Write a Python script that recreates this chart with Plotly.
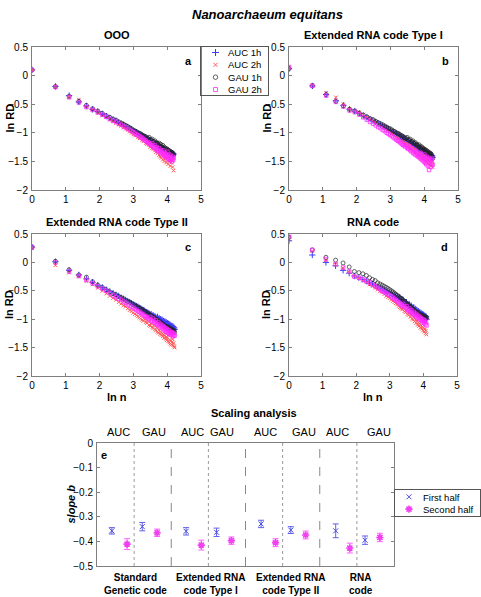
import numpy as np
import plotly.graph_objects as go

# ---------------- data ----------------
n_a = list(range(1, 67))
n_b = list(range(1, 71))
n_c = list(range(1, 69))
n_d = list(range(1, 61))

a_auc1 = [0.10, -0.19, -0.35, -0.46, -0.53, -0.59, -0.63, -0.67, -0.71, -0.74,
          -0.77, -0.79, -0.82, -0.84, -0.86, -0.89, -0.90, -0.93, -0.94, -0.97,
          -0.98, -0.99, -1.01, -1.03, -1.04, -1.05, -1.07, -1.08, -1.09, -1.11,
          -1.12, -1.13, -1.14, -1.16, -1.15, -1.18, -1.19, -1.20, -1.19, -1.22,
          -1.22, -1.24, -1.23, -1.26, -1.25, -1.27, -1.28, -1.27, -1.30, -1.29,
          -1.31, -1.30, -1.33, -1.32, -1.34, -1.31, -1.35, -1.33, -1.36, -1.34,
          -1.37, -1.35, -1.38, -1.36, -1.39, -1.37]
a_auc2 = [0.10, -0.20, -0.37, -0.42, -0.55, -0.59, -0.65, -0.70, -0.73, -0.77,
          -0.80, -0.83, -0.86, -0.88, -0.91, -0.93, -0.95, -0.98, -1.00, -1.03,
          -1.05, -1.02, -1.08, -1.10, -1.07, -1.13, -1.15, -1.11, -1.18, -1.20,
          -1.16, -1.22, -1.25, -1.19, -1.27, -1.29, -1.23, -1.31, -1.34, -1.27,
          -1.36, -1.30, -1.39, -1.42, -1.33, -1.44, -1.38, -1.47, -1.35, -1.50,
          -1.41, -1.45, -1.52, -1.38, -1.48, -1.55, -1.43, -1.50, -1.46, -1.58,
          -1.44, -1.52, -1.49, -1.60, -1.47, -1.66]
a_gau1 = [0.10, -0.19, -0.36, -0.45, -0.52, -0.58, -0.62, -0.66, -0.70, -0.73,
          -0.76, -0.78, -0.81, -0.83, -0.85, -0.87, -0.89, -0.91, -0.93, -0.95,
          -0.97, -0.98, -1.00, -1.01, -1.02, -1.04, -1.05, -1.06, -1.07, -1.09,
          -1.10, -1.08, -1.12, -1.13, -1.11, -1.15, -1.16, -1.14, -1.18, -1.17,
          -1.19, -1.21, -1.18, -1.23, -1.20, -1.24, -1.26, -1.22, -1.27, -1.25,
          -1.29, -1.27, -1.30, -1.28, -1.32, -1.30, -1.33, -1.31, -1.35, -1.33,
          -1.36, -1.34, -1.38, -1.35, -1.40, -1.37]
a_gau2 = [0.10, -0.20, -0.38, -0.47, -0.55, -0.60, -0.64, -0.68, -0.72, -0.76,
          -0.79, -0.81, -0.84, -0.86, -0.89, -0.90, -0.93, -0.95, -0.97, -0.99,
          -1.01, -1.03, -1.04, -1.06, -1.08, -1.09, -1.11, -1.13, -1.14, -1.16,
          -1.17, -1.19, -1.20, -1.22, -1.18, -1.24, -1.26, -1.22, -1.28, -1.25,
          -1.30, -1.32, -1.27, -1.34, -1.30, -1.36, -1.33, -1.38, -1.31, -1.40,
          -1.35, -1.42, -1.37, -1.44, -1.33, -1.41, -1.46, -1.38, -1.43, -1.48,
          -1.40, -1.45, -1.50, -1.42, -1.47, -1.44]

b_auc1 = [0.12, -0.18, -0.33, -0.44, -0.52, -0.59, -0.62, -0.66, -0.70, -0.73,
          -0.76, -0.79, -0.81, -0.84, -0.86, -0.88, -0.90, -0.92, -0.94, -0.96,
          -0.98, -0.99, -1.01, -1.02, -1.04, -1.05, -1.07, -1.08, -1.09, -1.11,
          -1.12, -1.13, -1.15, -1.14, -1.17, -1.18, -1.16, -1.20, -1.21, -1.19,
          -1.23, -1.22, -1.25, -1.24, -1.27, -1.26, -1.28, -1.30, -1.27, -1.31,
          -1.29, -1.33, -1.31, -1.34, -1.32, -1.36, -1.33, -1.37, -1.35, -1.38,
          -1.36, -1.39, -1.37, -1.40, -1.38, -1.41, -1.39, -1.42, -1.40, -1.43]
b_auc2 = [0.14, -0.16, -0.30, -0.38, -0.50, -0.58, -0.61, -0.64, -0.68, -0.72,
          -0.76, -0.79, -0.82, -0.85, -0.87, -0.90, -0.92, -0.95, -0.97, -0.99,
          -1.01, -1.03, -1.05, -1.07, -1.09, -1.10, -1.12, -1.14, -1.16, -1.17,
          -1.19, -1.21, -1.18, -1.23, -1.25, -1.21, -1.27, -1.29, -1.25, -1.31,
          -1.33, -1.28, -1.35, -1.31, -1.37, -1.39, -1.34, -1.41, -1.36, -1.43,
          -1.38, -1.45, -1.40, -1.47, -1.42, -1.50, -1.44, -1.52, -1.46, -1.48,
          -1.54, -1.45, -1.50, -1.56, -1.47, -1.52, -1.58, -1.50, -1.55, -1.60]
b_gau1 = [0.12, -0.18, -0.33, -0.45, -0.53, -0.59, -0.62, -0.66, -0.69, -0.72,
          -0.75, -0.77, -0.80, -0.82, -0.84, -0.86, -0.88, -0.90, -0.92, -0.93,
          -0.95, -0.97, -0.98, -1.00, -1.01, -1.02, -1.04, -1.05, -1.06, -1.08,
          -1.09, -1.10, -1.08, -1.12, -1.13, -1.11, -1.15, -1.16, -1.14, -1.18,
          -1.19, -1.17, -1.21, -1.20, -1.22, -1.24, -1.21, -1.25, -1.27, -1.24,
          -1.28, -1.26, -1.30, -1.28, -1.31, -1.29, -1.33, -1.31, -1.34, -1.32,
          -1.36, -1.34, -1.37, -1.35, -1.39, -1.36, -1.40, -1.38, -1.42, -1.45]
b_gau2 = [0.15, -0.18, -0.35, -0.46, -0.54, -0.61, -0.64, -0.68, -0.73, -0.77,
          -0.81, -0.84, -0.87, -0.90, -0.92, -0.95, -0.97, -1.00, -1.02, -1.04,
          -1.06, -1.08, -1.10, -1.12, -1.14, -1.15, -1.17, -1.19, -1.21, -1.22,
          -1.24, -1.21, -1.26, -1.28, -1.24, -1.30, -1.32, -1.27, -1.34, -1.36,
          -1.30, -1.38, -1.33, -1.40, -1.36, -1.42, -1.38, -1.44, -1.35, -1.46,
          -1.40, -1.48, -1.43, -1.50, -1.38, -1.52, -1.45, -1.55, -1.42, -1.47,
          -1.58, -1.44, -1.65, -1.50, -1.46, -1.60, -1.48, -1.53, -1.45, -1.56]

c_auc1 = [0.27, 0.01, -0.14, -0.22, -0.29, -0.35, -0.40, -0.44, -0.48, -0.51,
          -0.54, -0.57, -0.59, -0.62, -0.64, -0.66, -0.68, -0.70, -0.72, -0.74,
          -0.75, -0.77, -0.78, -0.80, -0.81, -0.83, -0.84, -0.85, -0.87, -0.88,
          -0.89, -0.90, -0.92, -0.91, -0.94, -0.93, -0.96, -0.95, -0.97, -0.99,
          -0.96, -1.00, -0.98, -1.02, -1.00, -1.03, -1.01, -1.05, -1.03, -1.06,
          -1.04, -1.08, -1.05, -1.09, -1.07, -1.10, -1.08, -1.12, -1.09, -1.13,
          -1.11, -1.14, -1.12, -1.16, -1.13, -1.17, -1.15, -1.18]
c_auc2 = [0.25, -0.05, -0.18, -0.25, -0.33, -0.39, -0.45, -0.50, -0.55, -0.59,
          -0.63, -0.66, -0.70, -0.73, -0.76, -0.78, -0.81, -0.84, -0.86, -0.89,
          -0.91, -0.93, -0.95, -0.97, -0.99, -1.01, -1.03, -1.00, -1.05, -1.07,
          -1.04, -1.10, -1.12, -1.08, -1.14, -1.16, -1.11, -1.18, -1.20, -1.15,
          -1.22, -1.24, -1.19, -1.26, -1.22, -1.28, -1.25, -1.30, -1.27, -1.33,
          -1.29, -1.35, -1.31, -1.37, -1.33, -1.39, -1.28, -1.41, -1.36, -1.43,
          -1.38, -1.45, -1.40, -1.35, -1.46, -1.42, -1.48, -1.50]
c_gau1 = [0.27, 0.02, -0.13, -0.22, -0.26, -0.34, -0.40, -0.44, -0.48, -0.52,
          -0.55, -0.57, -0.60, -0.62, -0.64, -0.67, -0.69, -0.70, -0.72, -0.74,
          -0.76, -0.77, -0.79, -0.80, -0.82, -0.83, -0.85, -0.86, -0.87, -0.89,
          -0.90, -0.91, -0.93, -0.94, -0.95, -0.96, -0.97, -0.99, -1.00, -1.01,
          -1.02, -1.03, -1.04, -1.05, -1.06, -1.07, -1.08, -1.09, -1.10, -1.11,
          -1.12, -1.13, -1.14, -1.13, -1.15, -1.16, -1.14, -1.17, -1.18, -1.16,
          -1.19, -1.20, -1.18, -1.21, -1.19, -1.22, -1.20, -1.23]
c_gau2 = [0.27, 0.00, -0.16, -0.24, -0.31, -0.37, -0.42, -0.46, -0.50, -0.54,
          -0.58, -0.61, -0.64, -0.66, -0.69, -0.71, -0.74, -0.76, -0.78, -0.80,
          -0.82, -0.84, -0.86, -0.87, -0.89, -0.91, -0.92, -0.94, -0.95, -0.97,
          -0.98, -1.00, -0.96, -1.02, -1.03, -0.99, -1.05, -1.06, -1.02, -1.08,
          -1.10, -1.05, -1.12, -1.08, -1.14, -1.10, -1.16, -1.12, -1.18, -1.14,
          -1.20, -1.16, -1.22, -1.17, -1.23, -1.19, -1.25, -1.20, -1.26, -1.22,
          -1.27, -1.23, -1.28, -1.24, -1.30, -1.25, -1.27, -1.29]

d_auc1 = [0.38, 0.13, 0.00, -0.06, -0.14, -0.19, -0.24, -0.27, -0.30, -0.33,
          -0.36, -0.38, -0.40, -0.43, -0.45, -0.47, -0.49, -0.51, -0.53, -0.55,
          -0.54, -0.58, -0.60, -0.59, -0.62, -0.64, -0.61, -0.67, -0.69, -0.66,
          -0.71, -0.73, -0.70, -0.75, -0.77, -0.74, -0.79, -0.76, -0.81, -0.83,
          -0.79, -0.85, -0.82, -0.87, -0.84, -0.88, -0.86, -0.90, -0.88, -0.92,
          -0.89, -0.93, -0.91, -0.95, -0.92, -0.96, -0.94, -0.98, -0.95, -1.00]
d_auc2 = [0.45, 0.20, 0.04, -0.04, -0.10, -0.17, -0.24, -0.28, -0.32, -0.35,
          -0.39, -0.42, -0.45, -0.48, -0.51, -0.53, -0.56, -0.59, -0.61, -0.63,
          -0.66, -0.68, -0.70, -0.72, -0.74, -0.77, -0.79, -0.81, -0.83, -0.80,
          -0.86, -0.88, -0.84, -0.91, -0.93, -0.89, -0.96, -0.92, -0.99, -1.01,
          -0.96, -1.04, -1.00, -1.07, -1.03, -1.10, -1.06, -1.12, -1.08, -1.15,
          -1.11, -1.17, -1.13, -1.20, -1.15, -1.22, -1.18, -1.25, -1.20, -1.27]
d_gau1 = [0.44, 0.22, 0.09, 0.04, -0.01, -0.08, -0.16, -0.18, -0.20, -0.23,
          -0.27, -0.30, -0.32, -0.36, -0.38, -0.40, -0.42, -0.44, -0.46, -0.48,
          -0.50, -0.52, -0.54, -0.56, -0.58, -0.60, -0.62, -0.63, -0.65, -0.67,
          -0.68, -0.70, -0.72, -0.73, -0.75, -0.76, -0.78, -0.79, -0.81, -0.82,
          -0.84, -0.85, -0.86, -0.88, -0.89, -0.90, -0.88, -0.92, -0.93, -0.91,
          -0.95, -0.94, -0.96, -0.93, -0.97, -0.95, -0.98, -0.96, -0.99, -0.97]
d_gau2 = [0.45, 0.22, 0.06, -0.03, -0.09, -0.16, -0.25, -0.27, -0.30, -0.33,
          -0.36, -0.39, -0.42, -0.45, -0.47, -0.50, -0.52, -0.54, -0.56, -0.58,
          -0.60, -0.62, -0.64, -0.66, -0.68, -0.70, -0.72, -0.74, -0.76, -0.73,
          -0.78, -0.80, -0.77, -0.83, -0.85, -0.81, -0.87, -0.84, -0.89, -0.91,
          -0.87, -0.93, -0.90, -0.95, -0.92, -0.97, -0.94, -0.99, -0.96, -1.01,
          -0.98, -1.03, -1.00, -1.05, -1.01, -1.07, -1.03, -1.09, -1.05, -1.11]

panel_titles = ["OOO", "Extended RNA code Type I", "Extended RNA code Type II", "RNA code"]
panel_letters = ["a", "b", "c", "d"]
series_names = ["AUC 1h", "AUC 2h", "GAU 1h", "GAU 2h"]

# Scaling analysis (panel e)
e_first_x = [0.40, 1.22, 2.40, 3.22, 4.42, 5.22, 6.43, 7.22]
e_second_x = [0.81, 1.62, 2.81, 3.62, 4.81, 5.62, 6.81, 7.62]
e_first = [-0.357, -0.340, -0.359, -0.363, -0.329, -0.354, -0.357, -0.395]
e_first_err = [0.013, 0.017, 0.015, 0.017, 0.015, 0.014, 0.028, 0.017]
e_second = [-0.411, -0.365, -0.415, -0.397, -0.405, -0.374, -0.427, -0.384]
e_second_err = [0.022, 0.015, 0.020, 0.015, 0.016, 0.016, 0.020, 0.017]
e_names = ["First half", "Second half"]
e_top_labels = ["AUC", "GAU", "AUC", "GAU", "AUC", "GAU", "AUC", "GAU"]
e_top_x = [0.59, 1.54, 2.56, 3.38, 4.54, 5.57, 6.49, 7.60]
e_group_line1 = ["Standard", "Extended RNA", "Extended RNA", "RNA"]
e_group_line2 = ["Genetic code", "code Type I", "code Type II", "code"]
e_group_x = [1.03, 3.05, 5.2, 7.1]
e_dotted = [1, 3, 5, 7]
e_dashed = [2, 4, 6]

# ---------------- figure ----------------
W, H = 481, 597
FONT = "Liberation Sans, Arial, sans-serif"
AX = "#7f7f7f"


def px(v):
    return v / W


def py(v):
    return 1 - v / H


panels = [
    (n_a, [a_auc1, a_auc2, a_gau1, a_gau2], (32, 201), (47, 190)),
    (n_b, [b_auc1, b_auc2, b_gau1, b_gau2], (289, 458), (47, 190)),
    (n_c, [c_auc1, c_auc2, c_gau1, c_gau2], (32, 201), (234, 376)),
    (n_d, [d_auc1, d_auc2, d_gau1, d_gau2], (289, 457), (234, 376)),
]

styles = [
    dict(symbol="cross-thin-open", color="#3a3aff", size=4.5, lw=1),
    dict(symbol="x-thin-open", color="#ff5a5a", size=3.5, lw=1),
    dict(symbol="circle-open", color="#222222", size=4, lw=0.7),
    dict(symbol="square-open", color="#ff2aff", size=3.5, lw=0.8),
]

fig = go.Figure()
layout = dict(
    width=W, height=H, margin=dict(l=0, r=0, t=0, b=0, autoexpand=False),
    paper_bgcolor="white", plot_bgcolor="white",
    font=dict(family=FONT, size=10, color="black"),
    showlegend=False,
)
annotations = []


def frame_axis(**kw):
    d = dict(showline=True, linecolor=AX, linewidth=1, showgrid=False,
             zeroline=False, fixedrange=True)
    d.update(kw)
    return d


for i, (nv, ser, (x0, x1), (y0, y1)) in enumerate(panels):
    k = i + 1
    xs = "x" if k == 1 else f"x{k}"
    ys = "y" if k == 1 else f"y{k}"
    lnx = np.log(np.array(nv, dtype=float))
    for j, yv in enumerate(ser):
        st = styles[j]
        fig.add_trace(go.Scatter(
            x=lnx, y=yv, mode="markers", xaxis=xs, yaxis=ys,
            name=series_names[j],
            marker=dict(symbol=st["symbol"], size=st["size"], color=st["color"],
                        line=dict(color=st["color"], width=st["lw"])),
        ))
    layout["xaxis" if k == 1 else f"xaxis{k}"] = frame_axis(
        domain=[px(x0), px(x1)], anchor=ys, range=[0, 5], dtick=1,
        mirror="allticks", ticks="inside", ticklen=3, tickcolor=AX,
        tickfont=dict(size=10), ticklabelstandoff=0,
    )
    layout["yaxis" if k == 1 else f"yaxis{k}"] = frame_axis(
        domain=[py(y1), py(y0)], anchor=xs, range=[-2, 0.5], dtick=0.5,
        mirror="allticks", ticks="inside", ticklen=3, tickcolor=AX,
        tickfont=dict(size=10), ticklabelstandoff=1,
    )
    annotations.append(dict(
        text=f"<b>{panel_titles[i]}</b>", x=(px(x0) + px(x1)) / 2, y=py(y0 - 12),
        xref="paper", yref="paper", xanchor="center", yanchor="middle",
        showarrow=False, font=dict(size=11)))
    annotations.append(dict(
        text=f"<b>{panel_letters[i]}</b>", x=0.925, y=0.905,
        xref=f"{xs} domain", yref=f"{ys} domain", xanchor="center", yanchor="middle",
        showarrow=False, font=dict(size=11)))
    annotations.append(dict(
        text="<b>ln RD</b>", x=px(x0 - 23), y=(py(y0) + py(y1)) / 2,
        xref="paper", yref="paper", xanchor="center", yanchor="middle",
        textangle=-90, showarrow=False, font=dict(size=11)))
    if k >= 3:
        annotations.append(dict(
            text="<b>ln n</b>", x=(px(x0) + px(x1)) / 2, y=py(y1 + 21),
            xref="paper", yref="paper", xanchor="center", yanchor="middle",
            showarrow=False, font=dict(size=11)))

# legend for panels a-d (drawn in its own small frame, pixel units)
LEG_FS = 9.5
line_h = LEG_FS * 1.3
layout["xaxis6"] = frame_axis(domain=[px(201), px(268)], anchor="y6", range=[0, 67],
                              mirror=True, linecolor="#555555", showticklabels=False, ticks="")
layout["yaxis6"] = frame_axis(domain=[py(95), py(47)], anchor="x6", range=[0, 48],
                              mirror=True, linecolor="#555555", showticklabels=False, ticks="")
leg_rows = [24 + (1.5 - j) * line_h for j in range(4)]
for j, st in enumerate(styles):
    fig.add_trace(go.Scatter(
        x=[14.5], y=[leg_rows[j]], mode="markers", xaxis="x6", yaxis="y6",
        marker=dict(symbol=st["symbol"], size=st["size"] + 0.5, color=st["color"],
                    line=dict(color=st["color"], width=st["lw"])),
        hoverinfo="skip"))
annotations.append(dict(text="<br>".join(series_names), x=26, y=24, xref="x6", yref="y6",
                        xanchor="left", yanchor="middle", align="left", showarrow=False,
                        font=dict(size=LEG_FS), borderpad=0))

# panel e
e_blue = "#4a4ae0"
e_mag = "#f040f0"
fig.add_trace(go.Scatter(
    x=e_first_x, y=e_first, mode="markers", xaxis="x5", yaxis="y5",
    name=e_names[0],
    marker=dict(symbol="x-thin-open", size=5, color=e_blue,
                line=dict(color=e_blue, width=1)),
    error_y=dict(type="data", array=e_first_err, color="#6060e8", thickness=1, width=3),
))
fig.add_trace(go.Scatter(
    x=e_second_x, y=e_second, mode="markers", xaxis="x5", yaxis="y5",
    name=e_names[1],
    marker=dict(symbol="asterisk-open", size=6, color=e_mag,
                line=dict(color=e_mag, width=1.6)),
    error_y=dict(type="data", array=e_second_err, color="#ff60ff", thickness=1, width=3),
))

ex0, ex1, ey0, ey1 = 97, 394, 443, 566
layout["xaxis5"] = frame_axis(
    domain=[px(ex0), px(ex1)], anchor="y5", range=[0, 8],
    mirror=True, ticks="", showticklabels=False,
)
layout["yaxis5"] = frame_axis(
    domain=[py(ey1), py(ey0)], anchor="x5", range=[-0.5, 0], dtick=0.1,
    mirror="allticks", ticks="inside", ticklen=3, tickcolor=AX,
    tickfont=dict(size=10), ticklabelstandoff=1,
)
annotations.append(dict(
    text="<b><i>slope b</i></b>", x=px(70), y=(py(ey0) + py(ey1)) / 2,
    xref="paper", yref="paper", xanchor="center", yanchor="middle",
    textangle=-90, showarrow=False, font=dict(size=11)))

# legend for panel e
layout["xaxis7"] = frame_axis(domain=[px(395), px(480)], anchor="y7", range=[0, 85],
                              mirror=True, linecolor="#555555", showticklabels=False, ticks="")
layout["yaxis7"] = frame_axis(domain=[py(516), py(490)], anchor="x7", range=[0, 26],
                              mirror=True, linecolor="#555555", showticklabels=False, ticks="")
e_rows = [13 + 0.5 * line_h, 13 - 0.5 * line_h]
fig.add_trace(go.Scatter(
    x=[14], y=[e_rows[0]], mode="markers", xaxis="x7", yaxis="y7",
    marker=dict(symbol="x-thin-open", size=5, color=e_blue, line=dict(color=e_blue, width=1)),
    hoverinfo="skip"))
fig.add_trace(go.Scatter(
    x=[14], y=[e_rows[1]], mode="markers", xaxis="x7", yaxis="y7",
    marker=dict(symbol="asterisk-open", size=6, color=e_mag, line=dict(color=e_mag, width=1.6)),
    hoverinfo="skip"))
annotations.append(dict(text="<br>".join(e_names), x=27, y=13, xref="x7", yref="y7",
                        xanchor="left", yanchor="middle", align="left", showarrow=False,
                        font=dict(size=LEG_FS), borderpad=0))

shapes = []
for d in e_dotted:
    shapes.append(dict(type="line", xref="x5", yref="y5 domain", x0=d, x1=d, y0=0, y1=1,
                       line=dict(color="#999999", width=1, dash="dot")))
for d in e_dashed:
    shapes.append(dict(type="line", xref="x5", yref="y5 domain", x0=d, x1=d, y0=0, y1=1,
                       line=dict(color="#888888", width=1, dash="dash")))

for lab, xv in zip(e_top_labels, e_top_x):
    annotations.append(dict(text=lab, x=xv, y=py(432), xref="x5", yref="paper",
                            xanchor="center", yanchor="middle", showarrow=False,
                            font=dict(size=11)))
for l1, l2, xv in zip(e_group_line1, e_group_line2, e_group_x):
    annotations.append(dict(text=f"<b>{l1}<br>{l2}</b>", x=xv, y=py(584), xref="x5",
                            yref="paper", xanchor="center", yanchor="middle",
                            showarrow=False, font=dict(size=10), borderpad=0))
annotations.append(dict(text="<b>e</b>", x=0.025, y=0.905, xref="x5 domain", yref="y5 domain",
                        xanchor="center", yanchor="middle", showarrow=False,
                        font=dict(size=11)))
annotations.append(dict(text="<b>Scaling analysis</b>", x=px(254), y=py(413),
                        xref="paper", yref="paper", xanchor="center", yanchor="middle",
                        showarrow=False, font=dict(size=11)))
annotations.append(dict(text="<b><i>Nanoarchaeum equitans</i></b>", x=px(267), y=py(15),
                        xref="paper", yref="paper", xanchor="center", yanchor="middle",
                        showarrow=False, font=dict(size=13)))

layout["annotations"] = annotations
layout["shapes"] = shapes
fig.update_layout(**layout)

fig.write_html("out.html", config={"displayModeBar": False, "staticPlot": True},
               post_script="document.body.style.margin='0px';")
